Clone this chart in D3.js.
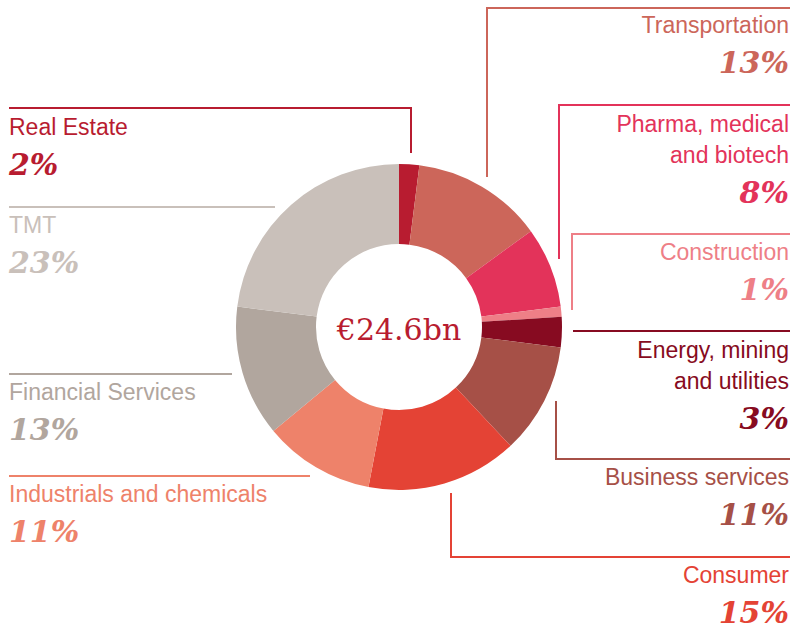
<!DOCTYPE html>
<html>
<head>
<meta charset="utf-8">
<script src="https://cdn.jsdelivr.net/npm/d3@7"></script>
<style>
  body { margin: 0; background: #fff; }
  .lbl { font-family: "Liberation Sans", Arial, sans-serif; font-size: 23px; }
  .pct { font-family: "DejaVu Serif", Georgia, serif; font-size: 30px; font-weight: bold; font-style: italic; }
</style>
</head>
<body>
<div id="chart"></div>
<script>
// sector data, clockwise from 12 o'clock
const sectors = ["Real Estate", "Transportation", "Pharma, medical and biotech", "Construction",
  "Energy, mining and utilities", "Business services", "Consumer", "Industrials and chemicals",
  "Financial Services", "TMT"];
const shares = [2, 13, 8, 1, 3, 11, 15, 11, 13, 23];
const colours = ["#b81c30", "#cc665a", "#e3335a", "#ee7f87", "#870b21", "#a65047",
  "#e44335", "#ee826a", "#b1a69e", "#c9c0ba"];
const totalLabel = "€24.6bn";

const width = 792;
const height = 630;

// callout layout: label lines, text anchor and leader line points
const callouts = [
  { lines: ["Real Estate"], x: 9, y: 135, anchor: "start", path: [[9, 108], [411, 108], [411, 153]] },
  { lines: ["Transportation"], x: 789, y: 33, anchor: "end", path: [[790, 8], [487, 8], [487, 177]] },
  { lines: ["Pharma, medical", "and biotech"], x: 789, y: 132, anchor: "end", path: [[790, 105], [559, 105], [559, 259]] },
  { lines: ["Construction"], x: 789, y: 260, anchor: "end", path: [[790, 234], [572, 234], [572, 310]] },
  { lines: ["Energy, mining", "and utilities"], x: 789, y: 358, anchor: "end", path: [[573, 331], [790, 331]] },
  { lines: ["Business services"], x: 789, y: 485, anchor: "end", path: [[556, 401], [556, 459], [790, 459]] },
  { lines: ["Consumer"], x: 789, y: 583, anchor: "end", path: [[451, 493], [451, 557], [790, 557]] },
  { lines: ["Industrials and chemicals"], x: 9, y: 502, anchor: "start", path: [[9, 476], [310, 476]] },
  { lines: ["Financial Services"], x: 9, y: 400, anchor: "start", path: [[9, 374], [232, 374]] },
  { lines: ["TMT"], x: 9, y: 233, anchor: "start", path: [[9, 207], [275, 207]] }
];

const color = d3.scaleOrdinal().domain(sectors).range(colours);

const svg = d3.select("#chart").append("svg")
  .attr("width", width)
  .attr("height", height);

const pie = d3.pie().sort(null).value(d => d.value);
const arc = d3.arc().innerRadius(83).outerRadius(163);

const data = sectors.map((s, i) => ({ name: s, value: shares[i] }));

const g = svg.append("g").attr("transform", "translate(399,327)");

g.selectAll("path")
  .data(pie(data))
  .enter()
  .append("path")
  .attr("d", arc)
  .attr("fill", d => color(d.data.name));

g.append("text")
  .attr("text-anchor", "middle")
  .attr("y", 13)
  .attr("font-family", "'DejaVu Serif', Georgia, serif")
  .attr("font-size", 30)
  .attr("fill", "#b81c30")
  .text(totalLabel);

// leader lines and labels
const line = d3.line();
callouts.forEach(function (c, i) {
  const col = color(sectors[i]);
  svg.append("path")
    .attr("d", line(c.path))
    .attr("fill", "none")
    .attr("stroke", col)
    .attr("stroke-width", 2);

  c.lines.forEach(function (t, j) {
    svg.append("text")
      .attr("class", "lbl")
      .attr("x", c.x)
      .attr("y", c.y + j * 31)
      .attr("text-anchor", c.anchor)
      .attr("fill", col)
      .text(t);
  });

  svg.append("text")
    .attr("class", "pct")
    .attr("x", c.x)
    .attr("y", c.y + (c.lines.length - 1) * 31 + 40)
    .attr("text-anchor", c.anchor)
    .attr("fill", col)
    .text(shares[i] + "%");
});
</script>
</body>
</html>
